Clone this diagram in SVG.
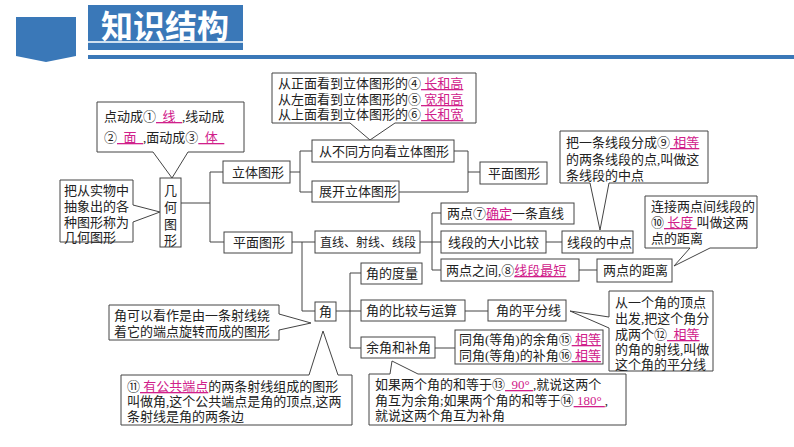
<svg xmlns="http://www.w3.org/2000/svg" width="794" height="447" viewBox="0 0 794 447">
<style>
.b{fill:#fff;stroke:#444;stroke-width:1}
.c{fill:none;stroke:#444;stroke-width:1}
text{font-family:"Liberation Serif","Noto Sans CJK SC",serif;font-size:13px;fill:#222}
.m{fill:#d0208a;text-decoration:underline}
.t{font-family:"Noto Sans CJK SC",sans-serif;font-size:32px;font-weight:bold;fill:#fff}
</style>
<rect width="794" height="447" fill="#fff"/>
<g id="header">
<polygon points="16,17 76,17 76,56 46,62 16,56" fill="#3a78b8"/>
<rect x="88" y="5" width="155" height="45" fill="#3a78b8"/>
<rect x="88" y="41" width="155" height="2" fill="#cfe0f0"/>
<rect x="88" y="55" width="706" height="4" fill="#3a78b8"/>
<text class="t" x="101" y="38">知识结构</text>
</g>
<g id="connectors" class="c">
<path d="M181,203H210M210,172V242M210,172H223M210,242H224"/>
<path d="M290,172H300M300,151V192M300,151H312M300,192H312"/>
<path d="M454,151H468M399,192H468M468,151V192M468,172H480"/>
<path d="M292,242H302M302,242V311M302,242H315M302,311H316"/>
<path d="M420,242H432M432,213V270M432,213H441M432,242H441M432,270H441"/>
<path d="M546,242H562M579,270H597"/>
<path d="M336,311H350M350,273V348M350,273H361M350,311H361M350,348H361"/>
<path d="M465,311H488M435,348H455"/>
</g>
<g id="c1"><path class="b" d="M97,102H244V152H188L172,178L153,152H97Z"/>
<text x="104" y="121">点动成①<tspan class="m">&#160;&#160;线&#160;&#160;</tspan>,线动成</text>
<text x="104" y="142">②<tspan class="m">&#160;&#160;面&#160;&#160;</tspan>,面动成③<tspan class="m">&#160;&#160;体&#160;&#160;</tspan></text></g>
<g id="jihe"><rect class="b" x="160" y="178" width="21" height="69"/>
<text x="164" y="195">几</text><text x="164" y="212">何</text><text x="164" y="229">图</text><text x="164" y="245">形</text></g>
<g id="c2"><path class="b" d="M60,180H133V205L160,212L133,222V242H60Z"/>
<text x="64" y="195">把从实物中</text><text x="64" y="211">抽象出的各</text><text x="64" y="227">种图形称为</text><text x="64" y="242">几何图形</text></g>
<g id="liti"><rect class="b" x="223" y="161" width="67" height="22"/><text x="232" y="177">立体图形</text></g>
<g id="pingmian1"><rect class="b" x="224" y="232" width="68" height="21"/><text x="233" y="247">平面图形</text></g>
<g id="c3"><path class="b" d="M272,73H476V123H395L370,140L350,123H272Z"/>
<text x="278" y="88">从正面看到立体图形的④<tspan class="m">&#160;长和高</tspan></text>
<text x="278" y="104">从左面看到立体图形的⑤<tspan class="m">&#160;宽和高</tspan></text>
<text x="278" y="119">从上面看到立体图形的⑥<tspan class="m">&#160;长和宽</tspan></text></g>
<g id="butong"><rect class="b" x="312" y="140" width="142" height="22"/><text x="319" y="156">从不同方向看立体图形</text></g>
<g id="zhankai"><rect class="b" x="312" y="181" width="87" height="21"/><text x="319" y="196">展开立体图形</text></g>
<g id="pingmian2"><rect class="b" x="480" y="162" width="67" height="22"/><text x="488" y="178">平面图形</text></g>
<g id="zhixian"><rect class="b" x="315" y="231" width="105" height="22"/><text x="320" y="247" style="font-size:12px">直线、射线、线段</text></g>
<g id="n7"><rect class="b" x="441" y="203" width="133" height="21"/><text x="447" y="218">两点⑦<tspan class="m">确定</tspan>一条直线</text></g>
<g id="bijiao"><rect class="b" x="441" y="231" width="105" height="22"/><text x="448" y="247">线段的大小比较</text></g>
<g id="n8"><rect class="b" x="441" y="259" width="138" height="22"/><text x="446" y="275">两点之间,⑧<tspan class="m">线段最短</tspan></text></g>
<g id="zhongdian"><rect class="b" x="562" y="231" width="71" height="22"/><text x="567" y="247">线段的中点</text></g>
<g id="c4"><path class="b" d="M560,131H708V183H609L600,230L590,183H560Z"/>
<text x="566" y="147">把一条线段分成⑨<tspan class="m">&#160;相等</tspan></text>
<text x="566" y="164">的两条线段的点,叫做这</text><text x="566" y="180">条线段的中点</text></g>
<g id="juli"><rect class="b" x="597" y="259" width="75" height="23"/><text x="603" y="275">两点的距离</text></g>
<g id="c5"><path class="b" d="M645,196H757V248H710L674,266L690,248H645Z"/>
<text x="651" y="211">连接两点间线段的</text><text x="651" y="227">⑩<tspan class="m">&#160;长度&#160;</tspan>叫做这两</text><text x="651" y="243">点的距离</text></g>
<g id="jiao"><rect class="b" x="315" y="302" width="21" height="19"/><text x="319" y="316">角</text></g>
<g id="duliang"><rect class="b" x="361" y="263" width="61" height="21"/><text x="366" y="278">角的度量</text></g>
<g id="yunsuan"><rect class="b" x="361" y="300" width="104" height="21"/><text x="366" y="315">角的比较与运算</text></g>
<g id="yujiao"><rect class="b" x="361" y="337" width="74" height="21"/><text x="366" y="352">余角和补角</text></g>
<g id="pingfen"><rect class="b" x="488" y="300" width="78" height="21"/><text x="496" y="315">角的平分线</text></g>
<g id="tongjiao"><rect class="b" x="455" y="330" width="148" height="34"/>
<text x="459" y="344">同角(等角)的余角⑮<tspan class="m">&#160;相等</tspan></text>
<text x="459" y="360">同角(等角)的补角⑯<tspan class="m">&#160;相等</tspan></text></g>
<g id="c6"><path class="b" d="M609,291H713V371H609V328L570,311L609,317Z"/>
<text x="615" y="307">从一个角的顶点</text><text x="615" y="323">出发,把这个角分</text>
<text x="615" y="339">成两个⑫<tspan class="m">&#160;&#160;相等</tspan></text><text x="615" y="354">的角的射线,叫做</text><text x="615" y="369">这个角的平分线</text></g>
<g id="c7"><path class="b" d="M109,305H279V314L311,323L279,330V340H109Z"/>
<text x="114" y="320">角可以看作是由一条射线绕</text><text x="114" y="336">着它的端点旋转而成的图形</text></g>
<g id="c8"><path class="b" d="M121,375H309L323,331L338,375H352V425H121Z"/>
<text x="127" y="391">⑪<tspan class="m">&#160;有公共端点</tspan>的两条射线组成的图形</text>
<text x="127" y="406">叫做角,这个公共端点是角的顶点,这两</text><text x="127" y="421">条射线是角的两条边</text></g>
<g id="c9"><path class="b" d="M369,374H390L392,361L418,374H626V425H369Z"/>
<text x="375" y="389">如果两个角的和等于⑬<tspan class="m">&#160;&#160;90°&#160;</tspan>,就说这两个</text>
<text x="375" y="405">角互为余角;如果两个角的和等于⑭<tspan class="m">&#160;180°&#160;</tspan>,</text>
<text x="375" y="420">就说这两个角互为补角</text></g>
</svg>
